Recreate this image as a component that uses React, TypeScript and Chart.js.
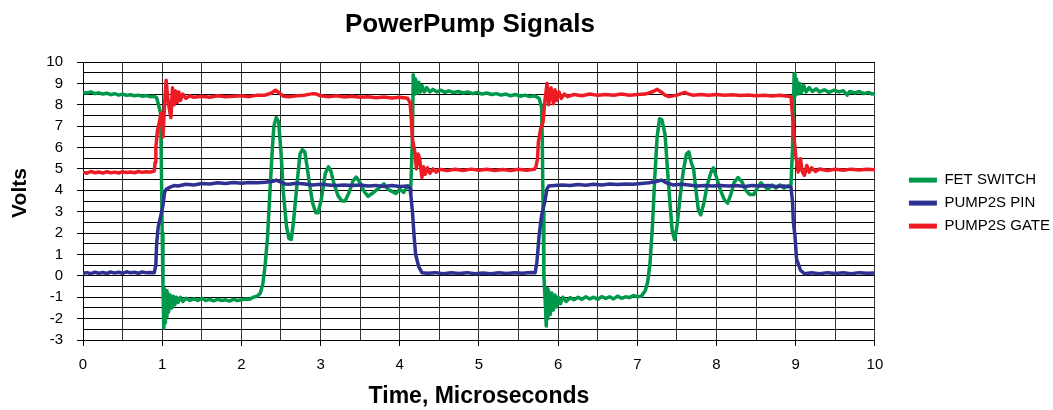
import React, { useEffect, useRef } from 'react';
import { Chart, registerables } from 'chart.js';

Chart.register(...registerables);

const chartTitle = 'PowerPump Signals';
const xAxisTitle = 'Time, Microseconds';
const yAxisTitle = 'Volts';
const seriesNames = ['FET SWITCH', 'PUMP2S PIN', 'PUMP2S GATE'];
const seriesColors = ['#00984A', '#2E3192', '#ED1C24'];
const xTickLabels = [0, 1, 2, 3, 4, 5, 6, 7, 8, 9, 10];
const yTickLabels = [-3, -2, -1, 0, 1, 2, 3, 4, 5, 6, 7, 8, 9, 10];

// [time (µs), volts]
const fetSwitch: [number, number][] = [
  [0, 8.58], [0.05, 8.55], [0.1, 8.6], [0.15, 8.52], [0.2, 8.56], [0.25, 8.5], [0.3, 8.54], [0.35, 8.47],
  [0.4, 8.52], [0.45, 8.45], [0.5, 8.5], [0.55, 8.44], [0.6, 8.47], [0.65, 8.42], [0.7, 8.45], [0.75, 8.4],
  [0.8, 8.43], [0.85, 8.38], [0.9, 8.4], [0.93, 8.33], [0.96, 7.9], [0.98, 7.6],
  [0.99, 5.0], [1.0, 2.0], [1.01, -0.5], [1.02, -2.45], [1.03, -0.6], [1.04, -2.2], [1.05, -0.7], [1.06, -1.9],
  [1.07, -0.8], [1.08, -1.7], [1.1, -0.9], [1.12, -1.5], [1.14, -0.95], [1.16, -1.35], [1.18, -1.0], [1.2, -1.25],
  [1.23, -1.0], [1.26, -1.2], [1.3, -1.05], [1.35, -1.15], [1.4, -1.08], [1.45, -1.15], [1.5, -1.05], [1.55, -1.15],
  [1.6, -1.1], [1.65, -1.17], [1.7, -1.1], [1.75, -1.15], [1.8, -1.12], [1.85, -1.18], [1.9, -1.1], [1.95, -1.15],
  [2.0, -1.12], [2.05, -1.08], [2.1, -1.1], [2.15, -1.0], [2.2, -0.95], [2.24, -0.8], [2.27, -0.4], [2.3, 0.5],
  [2.33, 1.8], [2.36, 3.9], [2.39, 5.9], [2.41, 7.0], [2.44, 7.4], [2.47, 7.2], [2.5, 5.8], [2.53, 3.9],
  [2.57, 2.3], [2.6, 1.75], [2.63, 1.7], [2.66, 2.6], [2.7, 4.2], [2.74, 5.7], [2.77, 5.9], [2.8, 5.8],
  [2.83, 5.1], [2.86, 4.3], [2.9, 3.4], [2.94, 2.95], [2.97, 2.95], [3.01, 3.6], [3.06, 4.8], [3.1, 5.1],
  [3.13, 4.9], [3.17, 4.3], [3.22, 3.75], [3.27, 3.5], [3.31, 3.5], [3.36, 3.9], [3.41, 4.45], [3.45, 4.62],
  [3.5, 4.35], [3.55, 3.95], [3.6, 3.72], [3.65, 3.85], [3.7, 4.0], [3.75, 4.15], [3.8, 4.3], [3.85, 4.05],
  [3.9, 3.95], [3.95, 3.85], [4.0, 4.05], [4.05, 3.9], [4.1, 4.2], [4.14, 4.2], [4.16, 6.5], [4.17, 9.4],
  [4.19, 8.5], [4.2, 9.2], [4.22, 8.55], [4.24, 9.05], [4.26, 8.6], [4.28, 8.9], [4.31, 8.6], [4.34, 8.8],
  [4.38, 8.6], [4.42, 8.72], [4.47, 8.6], [4.52, 8.68], [4.57, 8.58], [4.62, 8.65], [4.68, 8.57], [4.74, 8.62],
  [4.8, 8.55], [4.86, 8.6], [4.92, 8.52], [4.98, 8.58], [5.04, 8.5], [5.1, 8.55], [5.16, 8.48], [5.22, 8.52],
  [5.28, 8.45], [5.34, 8.5], [5.4, 8.42], [5.46, 8.48], [5.52, 8.4], [5.58, 8.45], [5.64, 8.38], [5.7, 8.42],
  [5.76, 8.3], [5.79, 7.9], [5.8, 6.3], [5.81, 3.0], [5.82, 0.0], [5.84, -1.5], [5.85, -2.35], [5.86, -0.6],
  [5.87, -2.0], [5.88, -0.7], [5.9, -1.8], [5.92, -0.8], [5.94, -1.6], [5.96, -0.9], [5.98, -1.45], [6.0, -1.0],
  [6.03, -1.3], [6.06, -1.0], [6.1, -1.2], [6.15, -1.02], [6.2, -1.12], [6.25, -1.0], [6.3, -1.1], [6.35, -0.98],
  [6.4, -1.08], [6.45, -1.0], [6.5, -1.1], [6.55, -0.97], [6.6, -1.05], [6.65, -0.98], [6.7, -1.08], [6.75, -0.95],
  [6.8, -1.05], [6.85, -0.98], [6.9, -1.02], [6.95, -0.92], [7.0, -0.98], [7.05, -0.95], [7.1, -0.7], [7.13, -0.3],
  [7.16, 0.6], [7.19, 2.3], [7.22, 4.6], [7.25, 6.5], [7.28, 7.35], [7.31, 7.3], [7.35, 6.6], [7.38, 5.0],
  [7.41, 3.5], [7.44, 2.1], [7.47, 1.7], [7.5, 2.3], [7.54, 3.7], [7.58, 4.9], [7.62, 5.7], [7.65, 5.8],
  [7.68, 5.3], [7.71, 5.0], [7.74, 4.0], [7.77, 3.1], [7.8, 2.85], [7.84, 3.4], [7.88, 4.2], [7.93, 4.85],
  [7.96, 5.05], [8.0, 4.6], [8.05, 4.0], [8.1, 3.55], [8.14, 3.4], [8.18, 3.8], [8.22, 4.35], [8.27, 4.6],
  [8.32, 4.4], [8.37, 4.0], [8.42, 3.8], [8.47, 3.8], [8.52, 4.15], [8.56, 4.35], [8.6, 4.2], [8.65, 4.05],
  [8.7, 4.25], [8.75, 4.1], [8.8, 4.25], [8.85, 4.1], [8.9, 4.2], [8.94, 4.25], [8.96, 6.0], [8.98, 9.45],
  [8.99, 8.4], [9.01, 9.2], [9.03, 8.5], [9.05, 9.0], [9.07, 8.55], [9.1, 8.9], [9.13, 8.6], [9.17, 8.8],
  [9.21, 8.62], [9.26, 8.75], [9.3, 8.6], [9.36, 8.7], [9.42, 8.58], [9.48, 8.68], [9.55, 8.6], [9.6, 8.66],
  [9.65, 8.45], [9.68, 8.62], [9.75, 8.55], [9.8, 8.62], [9.86, 8.52], [9.92, 8.58], [9.96, 8.5], [10, 8.52],
];

const pump2sPin: [number, number][] = [
  [0, 0.12], [0.05, 0.15], [0.1, 0.1], [0.15, 0.17], [0.2, 0.12], [0.25, 0.16], [0.3, 0.11], [0.35, 0.18],
  [0.4, 0.13], [0.45, 0.17], [0.5, 0.12], [0.55, 0.19], [0.6, 0.14], [0.65, 0.17], [0.7, 0.12], [0.75, 0.18],
  [0.8, 0.14], [0.85, 0.16], [0.9, 0.15], [0.92, 0.5], [0.93, 1.5], [0.95, 2.3], [0.97, 2.6], [0.99, 2.95],
  [1.01, 3.3], [1.03, 3.9], [1.05, 4.05], [1.1, 4.15], [1.15, 4.22], [1.2, 4.2], [1.3, 4.28], [1.4, 4.25],
  [1.5, 4.32], [1.6, 4.3], [1.7, 4.35], [1.8, 4.32], [1.9, 4.36], [2.0, 4.33], [2.1, 4.37], [2.2, 4.35],
  [2.3, 4.38], [2.4, 4.42], [2.44, 4.48], [2.5, 4.38], [2.55, 4.3], [2.6, 4.28], [2.7, 4.33], [2.8, 4.3],
  [2.9, 4.25], [3.0, 4.28], [3.1, 4.25], [3.2, 4.22], [3.3, 4.25], [3.4, 4.22], [3.5, 4.25], [3.6, 4.2],
  [3.7, 4.23], [3.8, 4.18], [3.9, 4.22], [4.0, 4.18], [4.1, 4.2], [4.13, 4.1], [4.14, 3.76], [4.16, 3.0],
  [4.18, 1.9], [4.2, 1.0], [4.24, 0.42], [4.28, 0.15], [4.35, 0.12], [4.45, 0.15], [4.55, 0.1], [4.65, 0.14],
  [4.75, 0.11], [4.85, 0.15], [4.95, 0.1], [5.05, 0.13], [5.15, 0.1], [5.25, 0.14], [5.35, 0.11], [5.45, 0.15],
  [5.55, 0.12], [5.65, 0.16], [5.71, 0.15], [5.73, 0.6], [5.74, 1.0], [5.76, 1.9], [5.79, 2.8], [5.83, 3.45],
  [5.86, 4.07], [5.88, 4.2], [5.95, 4.22], [6.05, 4.25], [6.15, 4.22], [6.25, 4.27], [6.35, 4.24], [6.45, 4.28],
  [6.55, 4.25], [6.65, 4.3], [6.75, 4.27], [6.85, 4.3], [6.95, 4.28], [7.05, 4.32], [7.15, 4.35], [7.25, 4.42],
  [7.3, 4.48], [7.37, 4.35], [7.45, 4.25], [7.55, 4.28], [7.65, 4.25], [7.75, 4.2], [7.85, 4.22], [7.95, 4.2],
  [8.05, 4.23], [8.15, 4.2], [8.25, 4.22], [8.35, 4.18], [8.45, 4.22], [8.55, 4.2], [8.65, 4.22], [8.75, 4.18],
  [8.85, 4.2], [8.94, 4.15], [8.96, 3.45], [8.97, 2.5], [8.99, 1.9], [9.01, 0.8], [9.06, 0.26], [9.11, 0.1],
  [9.2, 0.14], [9.3, 0.1], [9.4, 0.15], [9.5, 0.11], [9.6, 0.14], [9.7, 0.1], [9.8, 0.15], [9.9, 0.12], [10, 0.13],
];

const pump2sGate: [number, number][] = [
  [0, 4.85], [0.05, 4.8], [0.1, 4.88], [0.15, 4.82], [0.2, 4.86], [0.25, 4.8], [0.3, 4.87], [0.35, 4.82],
  [0.4, 4.85], [0.45, 4.81], [0.5, 4.87], [0.55, 4.83], [0.6, 4.86], [0.65, 4.82], [0.7, 4.88], [0.75, 4.84],
  [0.8, 4.87], [0.85, 4.85], [0.9, 4.9], [0.91, 5.3], [0.92, 6.0], [0.94, 6.8], [0.96, 7.1], [0.98, 7.5],
  [0.99, 7.6], [1.01, 6.5], [1.03, 8.0], [1.05, 9.15], [1.07, 8.3], [1.09, 7.8], [1.11, 7.4], [1.13, 8.8],
  [1.15, 8.0], [1.17, 8.65], [1.19, 8.1], [1.21, 8.6], [1.23, 8.2], [1.26, 8.5], [1.3, 8.3], [1.35, 8.42],
  [1.4, 8.35], [1.5, 8.4], [1.6, 8.35], [1.7, 8.42], [1.8, 8.38], [1.9, 8.4], [2.0, 8.42], [2.1, 8.38],
  [2.2, 8.45], [2.3, 8.45], [2.38, 8.55], [2.43, 8.68], [2.48, 8.55], [2.53, 8.4], [2.6, 8.38], [2.7, 8.42],
  [2.8, 8.45], [2.9, 8.52], [2.95, 8.5], [3.0, 8.42], [3.1, 8.38], [3.2, 8.42], [3.3, 8.36], [3.4, 8.4],
  [3.5, 8.35], [3.6, 8.38], [3.7, 8.33], [3.8, 8.36], [3.9, 8.32], [4.0, 8.35], [4.1, 8.3], [4.13, 8.1],
  [4.14, 7.66], [4.16, 6.4], [4.19, 5.8], [4.21, 5.0], [4.23, 5.7], [4.25, 5.5], [4.28, 4.6], [4.3, 5.1],
  [4.32, 4.75], [4.35, 5.05], [4.38, 4.8], [4.42, 5.0], [4.46, 4.85], [4.5, 4.98], [4.6, 4.92], [4.7, 4.98],
  [4.8, 4.93], [4.9, 4.99], [5.0, 4.94], [5.1, 4.98], [5.2, 4.93], [5.3, 4.97], [5.4, 4.93], [5.5, 4.98],
  [5.6, 4.94], [5.7, 4.98], [5.72, 5.1], [5.74, 5.5], [5.75, 6.25], [5.78, 6.9], [5.81, 7.2], [5.83, 8.1],
  [5.86, 9.0], [5.88, 8.0], [5.91, 8.8], [5.94, 8.05], [5.96, 8.7], [5.98, 8.2], [6.01, 8.6], [6.04, 8.3],
  [6.08, 8.5], [6.12, 8.38], [6.2, 8.48], [6.3, 8.42], [6.4, 8.5], [6.5, 8.44], [6.6, 8.48], [6.7, 8.45],
  [6.8, 8.5], [6.9, 8.45], [7.0, 8.48], [7.1, 8.5], [7.2, 8.62], [7.25, 8.72], [7.3, 8.6], [7.35, 8.45],
  [7.4, 8.38], [7.5, 8.45], [7.6, 8.58], [7.65, 8.5], [7.7, 8.45], [7.8, 8.48], [7.9, 8.45], [8.0, 8.48],
  [8.1, 8.44], [8.2, 8.47], [8.3, 8.43], [8.4, 8.46], [8.5, 8.42], [8.6, 8.45], [8.7, 8.41], [8.8, 8.44],
  [8.9, 8.4], [8.94, 8.38], [8.96, 7.5], [8.98, 6.4], [9.0, 5.64], [9.03, 4.86], [9.06, 5.48], [9.08, 4.9],
  [9.11, 4.7], [9.14, 5.16], [9.17, 4.85], [9.2, 5.05], [9.25, 4.88], [9.3, 5.0], [9.4, 4.93], [9.5, 4.98],
  [9.6, 4.94], [9.7, 4.99], [9.8, 4.95], [9.9, 4.98], [10, 4.96],
];

const FONT = 'Arial, "Liberation Sans", sans-serif';

const extraText = {
  id: 'extraText',
  afterDraw(chart: any) {
    const { ctx, chartArea } = chart;
    ctx.save();
    ctx.fillStyle = '#000';
    ctx.textAlign = 'center';
    ctx.font = `bold 26px ${FONT}`;
    ctx.textBaseline = 'alphabetic';
    ctx.fillText(chartTitle, (chartArea.left + chartArea.right) / 2 - 9, 32);
    ctx.font = `bold 21px ${FONT}`;
    ctx.textBaseline = 'middle';
    ctx.translate(20, (chartArea.top + chartArea.bottom) / 2 - 8);
    ctx.rotate(-Math.PI / 2);
    ctx.fillText(yAxisTitle, 0, 0);
    ctx.restore();
  },
};

export default function App() {
  const ref = useRef<HTMLCanvasElement | null>(null);
  useEffect(() => {
    if (!ref.current) return;
    const series = [fetSwitch, pump2sPin, pump2sGate];
    const chart = new Chart(ref.current, {
      type: 'line',
      data: {
        datasets: series.map((s, i) => ({
          label: seriesNames[i],
          data: s.map(([x, y]) => ({ x, y })),
          borderColor: seriesColors[i],
          backgroundColor: seriesColors[i],
          borderWidth: 3.5,
          pointRadius: 0,
          tension: 0,
          fill: false,
          borderJoinStyle: 'round' as const,
          order: 3 - i,
        })),
      },
      options: {
        animation: false,
        responsive: false,
        devicePixelRatio: 1,
        events: [],
        layout: { padding: { top: 62, left: 0, right: 0, bottom: 0 } },
        plugins: {
          title: { display: false },
          tooltip: { enabled: false },
          legend: {
            display: true,
            position: 'right',
            fullSize: false,
            title: { display: true, text: '', font: { size: 1 }, padding: { top: 1.5, bottom: 1.5 } },
            labels: {
              font: { family: FONT, size: 15 },
              color: '#000',
              boxWidth: 28,
              boxHeight: 5,
              padding: 8,
              sort: (a: any, b: any) => a.datasetIndex - b.datasetIndex,
              generateLabels: (c: any) =>
                Chart.defaults.plugins.legend.labels.generateLabels(c).map((l: any) => ({ ...l, lineWidth: 0 })),
            },
          },
        },
        scales: {
          x: {
            type: 'linear',
            min: 0,
            max: 10,
            afterFit: (s: any) => { s.height = 70; },
            ticks: {
              stepSize: 0.5,
              autoSkip: false,
              maxRotation: 0,
              padding: 10,
              color: '#000',
              font: { family: FONT, size: 15 },
              callback: (v: any) => (xTickLabels.includes(Number(v)) ? String(v) : ''),
            },
            grid: {
              color: '#333',
              lineWidth: 1,
              tickLength: 6,
              tickColor: (c: any) => (xTickLabels.includes(c.tick?.value) ? '#000' : 'rgba(0,0,0,0)'),
            },
            border: { color: '#000', width: 1 },
            title: {
              display: true,
              text: xAxisTitle,
              color: '#000',
              font: { family: FONT, size: 23, weight: 'bold' },
              padding: { top: 0, bottom: 0 },
            },
          },
          y: {
            type: 'linear',
            min: -3,
            max: 10,
            afterFit: (s: any) => { s.width = 83; },
            ticks: {
              stepSize: 0.5,
              autoSkip: false,
              padding: 14,
              color: '#000',
              font: { family: FONT, size: 15 },
              callback: (v: any) => (yTickLabels.includes(Number(v)) ? String(v) : ''),
            },
            grid: {
              color: '#000',
              lineWidth: 1,
              tickLength: 6,
              tickColor: (c: any) => (yTickLabels.includes(c.tick?.value) ? '#000' : 'rgba(0,0,0,0)'),
            },
            border: { color: '#000', width: 1 },
          },
          y2: {
            type: 'linear',
            position: 'right',
            display: true,
            afterFit: (s: any) => { s.width = 26; },
            ticks: { display: false },
            grid: { display: false, drawTicks: false },
            border: { display: false },
          },
        },
      },
      plugins: [extraText],
    });
    return () => chart.destroy();
  }, []);
  return (
    <div style={{ position: 'absolute', left: 0, top: 0, width: 1053, height: 410, overflow: 'hidden', background: '#fff' }}>
      <canvas ref={ref} width={1060} height={410} style={{ display: 'block' }} />
    </div>
  );
}
